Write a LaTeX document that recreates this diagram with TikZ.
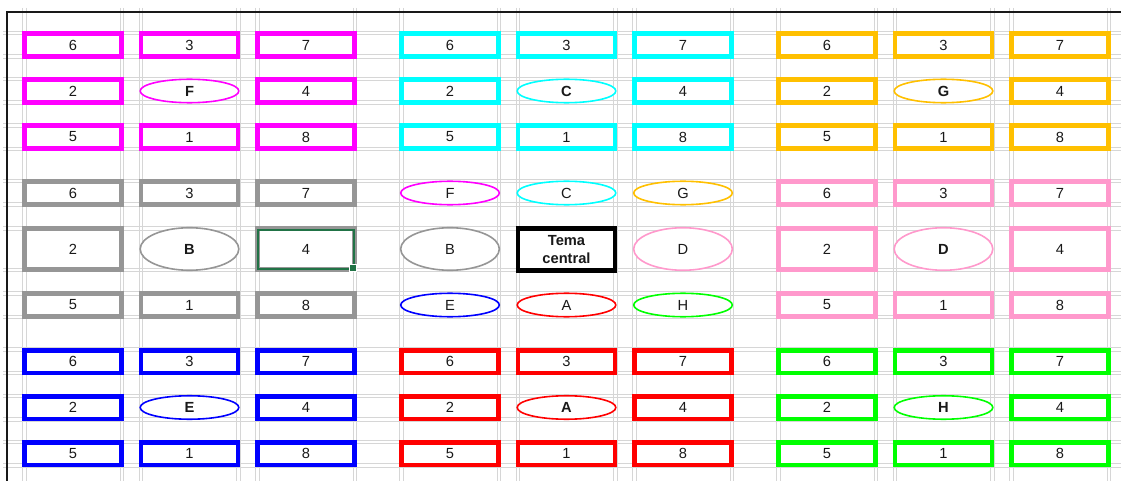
\documentclass[tikz,border=0pt]{standalone}
\usepackage{fontspec}
\setmainfont{Liberation Sans}
\usepackage{tikz}
\usetikzlibrary{shapes.geometric}
\definecolor{petalF}{HTML}{FF00FF}
\definecolor{petalC}{HTML}{00FFFF}
\definecolor{petalG}{HTML}{FFC000}
\definecolor{petalB}{HTML}{969696}
\definecolor{petalD}{HTML}{FF99CC}
\definecolor{petalE}{HTML}{0000FF}
\definecolor{petalA}{HTML}{FF0000}
\definecolor{petalH}{HTML}{00FF00}
\definecolor{gridgray}{HTML}{D6D6D6}
\definecolor{selgreen}{HTML}{217346}

\begin{document}
\begin{tikzpicture}[x=0.75pt,y=-0.75pt,
  cell/.style={draw=#1,line width=3.4pt,fill=white,inner sep=0pt,minimum width=73pt,minimum height=16.9pt,text=black!90,font=\fontsize{11}{13}\selectfont},
  petal/.style={ellipse,draw=#1,line width=1.2pt,fill=white,inner sep=0pt,minimum width=74pt,minimum height=17.6pt,text=black!90,font=\fontsize{11}{13}\selectfont},
  grid line/.style={gridgray,line width=0.75pt}]
\useasboundingbox (0,0) rectangle (1121,481);
\fill[white] (0,0) rectangle (1121,481);
% sheet grid
\foreach \cx in {73,189.5,306,450,566.5,683,827,943.5,1060}
  \foreach \d in {-50.5,-47,47,50.5}
    \draw[grid line] ({\cx+\d},8) -- ({\cx+\d},481);
\foreach \cy/\h in {45/13.5,91/13.5,137.5/13.5,193/13.5,249/22.5,305/13.5,361/13.5,407.5/13.5,453.5/13.5}
  \foreach \d in {-1,1}{
    \draw[grid line] (3,{\cy+\d*\h}) -- (1121,{\cy+\d*\h});
    \draw[grid line] (3,{\cy+\d*(\h-3.5)}) -- (1121,{\cy+\d*(\h-3.5)});
  }
\draw[line width=1.5pt,black!90] (7,481) -- (7,12) -- (1121,12);
% outer petals
\foreach \nm/\clr/\cx/\cy/\dy/\mh/\eh in {F/petalF/189.5/91/46/16.9/17.6, C/petalC/566.5/91/46/16.9/17.6, G/petalG/943.5/91/46/16.9/17.6, B/petalB/189.5/249/56/30.4/31.9, D/petalD/943.5/249/56/30.4/31.9, E/petalE/189.5/407.5/46/16.9/17.6, A/petalA/566.5/407.5/46/16.9/17.6, H/petalH/943.5/407.5/46/16.9/17.6}{
  \foreach \i/\j/\n in {-1/-1/6,0/-1/3,1/-1/7,-1/0/2,1/0/4,-1/1/5,0/1/1,1/1/8}{
    \pgfmathsetmacro\hh{ifthenelse(\j==0,\mh,16.9)}
    \node[cell=\clr,minimum height=\hh pt] (\nm-\n) at ({\cx+\i*116.5},{\cy+\j*\dy}) {\n};
  }
  \node[petal=\clr,minimum height=\eh pt] (\nm-0) at (\cx,\cy) {\bfseries\nm};
}
% centre
\node[cell=black,minimum height=31.1pt,align=center,font=\fontsize{11}{13.5}\selectfont\bfseries] (tema) at (566.5,249.5) {Tema\\central};
\foreach \nm/\cx/\cy/\eh in {F/450/193/17.6, C/566.5/193/17.6, G/683/193/17.6, B/450/249/31.9, D/683/249/31.9, E/450/305/17.6, A/566.5/305/17.6, H/683/305/17.6}
  \node[petal=petal\nm,minimum height=\eh pt] (hub-\nm) at (\cx,\cy) {\nm};
% selected cell
\draw[selgreen,line width=1.5pt] (258,230) rectangle (354,269);
\draw[fill=selgreen,draw=white,line width=0.75pt] (349,264) rectangle (356,271);
\end{tikzpicture}
\end{document}
